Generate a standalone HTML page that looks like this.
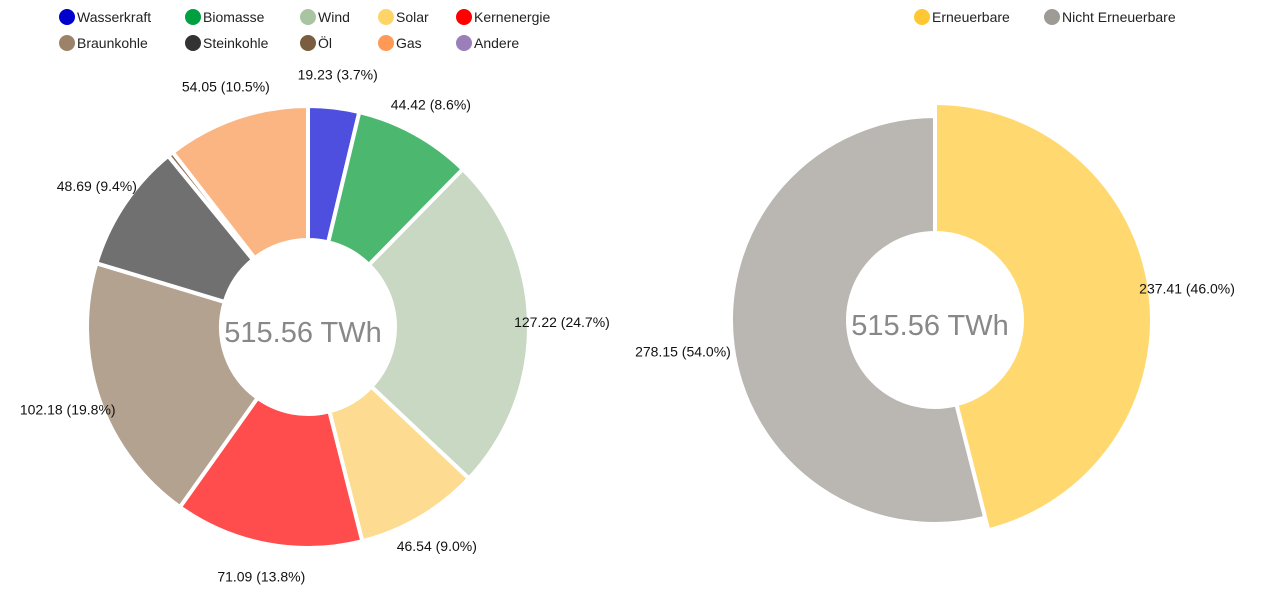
<!DOCTYPE html>
<html><head><meta charset="utf-8">
<style>
body{margin:0;background:#fff;font-family:"Liberation Sans",Arial,sans-serif;}
svg{display:block}
text{font-family:"Liberation Sans",Arial,sans-serif;}
</style></head>
<body>
<svg id="chart" width="1265" height="590" viewBox="0 0 1265 590"></svg>
<script>
const leftCategories = ["Wasserkraft","Biomasse","Wind","Solar","Kernenergie","Braunkohle","Steinkohle","Öl","Gas","Andere"];
const leftValues = [19.23,44.42,127.22,46.54,71.09,102.18,48.69,2.14,54.05,0];
const leftSliceColors = ["#4f4fdf","#4cb86f","#c8d8c2","#fddc91","#ff4c4c","#b3a290","#707070","#8b7355","#fbb582","#9a7fb8"];
const leftLegendColors = ["#0000cd","#00a040","#a8c4a0","#ffd466","#ff0000","#9c8268","#333333","#7a5c3e","#ff9955","#9a7fb8"];
const rightCategories = ["Erneuerbare","Nicht Erneuerbare"];
const rightValues = [237.41,278.15];
const rightSliceColors = ["#ffd970","#bab6b2"];
const rightLegendColors = ["#ffc733","#9e9a96"];
const totalLabel = "515.56 TWh";

const svg = document.getElementById('chart');
const NS = "http://www.w3.org/2000/svg";
function mk(tag, attrs){const e=document.createElementNS(NS,tag);for(const k in attrs)e.setAttribute(k,attrs[k]);svg.appendChild(e);return e;}

function arcPath(cx,cy,r0,r1,a0,a1){
  const p=(r,a)=>[cx+r*Math.sin(a),cy-r*Math.cos(a)];
  const large=(a1-a0)>Math.PI?1:0;
  const [x1,y1]=p(r1,a0),[x2,y2]=p(r1,a1),[x3,y3]=p(r0,a1),[x4,y4]=p(r0,a0);
  return `M${x1},${y1}A${r1},${r1} 0 ${large} 1 ${x2},${y2}L${x3},${y3}A${r0},${r0} 0 ${large} 0 ${x4},${y4}Z`;
}

function donut(cx,cy,r0,r1,values,colors,names,bigIndex,bigR,labelR,prefix){
  const total=values.reduce((a,b)=>a+b,0);
  let acc=0;
  values.forEach((v,i)=>{
    const a0=acc/total*2*Math.PI; acc+=v; const a1=acc/total*2*Math.PI;
    if(v<=0) return;
    const R=(i===bigIndex)?bigR:r1;
    const path=mk('path',{d:arcPath(cx,cy,r0,R,a0,a1),fill:colors[i],stroke:'#fff','stroke-width':4,'stroke-linejoin':'round'});
    
    
    if(v/total<0.02) return;
    const am=(a0+a1)/2;
    const t=mk('text',{x:cx+labelR*Math.sin(am),y:cy-labelR*Math.cos(am)+5,'text-anchor':'middle','font-size':14,fill:'#111'});
    t.textContent=v.toFixed(2)+' ('+(v/total*100).toFixed(1)+'%)';
    
    
  });
  const c=mk('text',{x:cx-5,y:cy+15,'text-anchor':'middle','font-size':29,fill:'#888'});
  c.textContent=totalLabel;
  
  
}

function legend(items,colors,positions,prefix){
  items.forEach((n,i)=>{
    const [x,y]=positions[i];
    const g=mk('circle',{cx:x,cy:y,r:8,fill:colors[i]});
    
    
    const t=mk('text',{x:x+10,y:y+5,'font-size':14,fill:'#222'});
    t.textContent=n;
    
    
  });
}

const colX=[67,193,308,386,464];
legend(leftCategories,leftLegendColors,leftCategories.map((_,i)=>[colX[i%5],i<5?17:43]),'left');
legend(rightCategories,rightLegendColors,[[922,17],[1052,17]],'right');

donut(308,327,87,221,leftValues,leftSliceColors,leftCategories,-1,221,254,'left');
donut(935,320,87,204,rightValues,rightSliceColors,rightCategories,0,217,254,'right');
</script>
</body></html>
